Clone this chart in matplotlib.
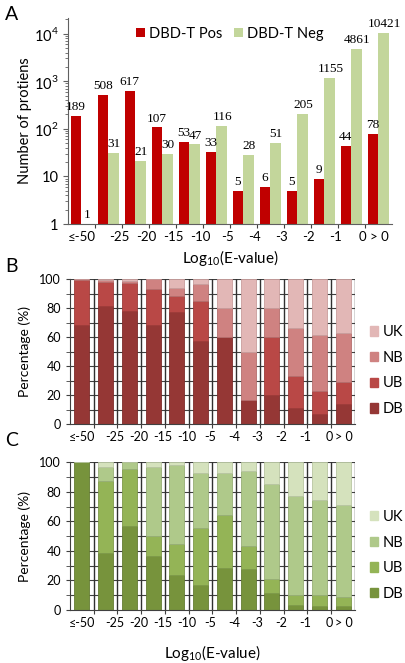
import numpy as np
import matplotlib
matplotlib.use('Agg')
import matplotlib.pyplot as plt
from matplotlib.patches import Patch

plt.rcParams['font.family'] = ['Lato', 'DejaVu Sans']

# bins of log10(E-value)
n_bins = 12
tick_labels = ['≤-50', '-25', '-20', '-15', '-10', '-5', '-4', '-3', '-2', '-1', '0', '> 0']

# panel A: number of proteins
pos_counts = [189, 508, 617, 107, 53, 33, 5, 6, 5, 9, 44, 78]
neg_counts = [1, 31, 21, 30, 47, 116, 28, 51, 205, 1155, 4861, 10421]

# panel B: DBD-T Pos percentages
pos_db = [68.3, 81.6, 78.1, 68.2, 77.4, 57.6, 60.0, 16.7, 20.0, 11.1, 6.8, 14.1]
pos_ub = [31.2, 16.8, 19.1, 25.2, 11.3, 27.2, 0.0, 0.0, 40.0, 22.2, 15.9, 15.4]
pos_nb = [0.5, 1.1, 1.6, 6.6, 5.6, 12.2, 20.0, 33.3, 20.0, 33.3, 38.6, 33.3]
pos_uk = [0.0, 0.5, 1.2, 0.0, 5.7, 3.0, 20.0, 50.0, 20.0, 33.4, 38.7, 37.2]

# panel C: DBD-T Neg percentages
neg_db = [100.0, 38.7, 57.1, 36.7, 23.4, 16.9, 28.6, 27.5, 11.7, 3.4, 3.0, 2.8]
neg_ub = [0.0, 48.4, 38.1, 13.3, 21.3, 38.4, 35.7, 15.7, 9.1, 6.8, 7.2, 6.0]
neg_nb = [0.0, 9.7, 4.8, 46.7, 53.2, 37.2, 28.6, 50.9, 64.5, 67.0, 64.3, 62.3]
neg_uk = [0.0, 3.2, 0.0, 3.3, 2.1, 7.5, 7.1, 5.9, 14.7, 22.8, 25.5, 28.9]

W, H = 406, 663
x = np.arange(n_bins)
bounds = np.arange(n_bins - 1) + 0.5
label_pos = [0] + list(bounds[1:] - 0.1) + [11.05]


def rect(left, top, right, bottom):
    return [left / W, (H - bottom) / H, (right - left) / W, (bottom - top) / H]


def set_bin_axis(ax, fs):
    ax.set_xlim(-0.5, n_bins - 0.5)
    ax.xaxis.remove_overlapping_locs = False
    ax.set_xticks(bounds)
    ax.set_xticklabels([])
    ax.tick_params(axis='x', which='major', length=3, color='#404040')
    ax.set_xticks(label_pos, minor=True)
    ax.set_xticklabels(tick_labels, minor=True, fontsize=fs)
    ax.tick_params(axis='x', which='minor', length=0, pad=5)


def stacked(ax, parts, colors, edges, names):
    ax.set_ylim(0, 100)
    for y in range(10, 101, 10):
        ax.axhline(y, color='#404040', lw=0.8, zorder=0)
    for b in list(bounds) + [n_bins - 0.5]:
        ax.axvline(b, color='#303030', lw=1.0, zorder=0)
    bottom = np.zeros(n_bins)
    for vals, c, e in zip(parts, colors, edges):
        ax.bar(x, vals, 0.63, bottom=bottom, color=c, edgecolor=e, lw=0.6, zorder=2)
        bottom += np.array(vals)
    ax.set_yticks(range(0, 101, 20))
    ax.set_yticks(range(0, 101, 10), minor=True)
    ax.tick_params(axis='y', which='both', length=3, labelsize=9, color='#404040')
    for s in ['top', 'right']:
        ax.spines[s].set_visible(False)
    ax.spines['left'].set_color('#404040')
    ax.spines['bottom'].set_color('#404040')
    set_bin_axis(ax, 9)
    ax.set_ylabel('Percentage (%)', fontsize=10, labelpad=6)
    handles = [Patch(facecolor=colors[i], edgecolor=colors[i]) for i in range(3, -1, -1)]
    ax.legend(handles, names[::-1], loc='center left', bbox_to_anchor=(1.0, 0.37),
              frameon=False, fontsize=10.5, handlelength=0.6, handleheight=0.6,
              handletextpad=0.3, labelspacing=0.8, borderaxespad=0.6)


fig = plt.figure(figsize=(W / 100, H / 100), dpi=100)

# ---- A ----
axA = fig.add_axes(rect(68, 18, 392, 224))
w = 0.38
axA.bar(x - w / 2, pos_counts, w, color='#C00000', label='DBD-T Pos', zorder=2)
axA.bar(x + w / 2, neg_counts, w, color='#C3D69B', label='DBD-T Neg', zorder=2)
axA.set_yscale('log')
axA.set_ylim(1, 10 ** (206 / 47.6))
axA.set_yticks([1, 10, 100, 1000, 10000])
axA.set_yticklabels(['1', '10', '10$^{\\mathregular{2}}$', '10$^{\\mathregular{3}}$',
                     '10$^{\\mathregular{4}}$'], fontsize=10.5)
axA.tick_params(axis='y', which='both', color='#606060')
for xi, v in zip(x - w / 2, pos_counts):
    axA.annotate(str(v), (xi, v), xytext=(-0.5, 2), textcoords='offset points',
                 ha='center', va='bottom', fontsize=9.5, family='Liberation Serif')
for xi, v in zip(x + w / 2, neg_counts):
    axA.annotate(str(v), (xi, v), xytext=(0.5, 2), textcoords='offset points',
                 ha='center', va='bottom', fontsize=9.5, family='Liberation Serif')
for s in ['top', 'right']:
    axA.spines[s].set_visible(False)
axA.spines['left'].set_color('#606060')
axA.spines['bottom'].set_color('#606060')
set_bin_axis(axA, 9.5)
axA.set_xlabel('Log$_{\\mathregular{10}}$(E-value)', fontsize=11, labelpad=4)
axA.set_ylabel('Number of protiens', fontsize=10.5, labelpad=1)
axA.legend(loc='upper center', ncol=2, frameon=False, fontsize=10.5,
           bbox_to_anchor=(0.5, 1.02), handlelength=0.6, handleheight=0.6,
           handletextpad=0.3, columnspacing=0.8)

# ---- B ----
axB = fig.add_axes(rect(70, 279.3, 355, 424.3))
stacked(axB, [pos_db, pos_ub, pos_nb, pos_uk],
        ['#953735', '#B94846', '#CF8281', '#E2B7B6'],
        ['#7E2C2A', '#9E3B39', '#B46E6D', '#C99E9D'],
        ['DB', 'UB', 'NB', 'UK'])

# ---- C ----
axC = fig.add_axes(rect(70, 462.3, 355, 610))
stacked(axC, [neg_db, neg_ub, neg_nb, neg_uk],
        ['#77933C', '#94B456', '#AFC98A', '#D5E2BD'],
        ['#657D33', '#7E9A49', '#97AE76', '#B8C6A2'],
        ['DB', 'UB', 'NB', 'UK'])
axC.set_xlabel('Log$_{\\mathregular{10}}$(E-value)', fontsize=11, labelpad=10)

for lbl, yy in [('A', 14), ('B', 266), ('C', 441)]:
    fig.text(12 / W, 1 - yy / H, lbl, fontsize=14, ha='center', va='center')

fig.savefig('out.png', dpi=100)
